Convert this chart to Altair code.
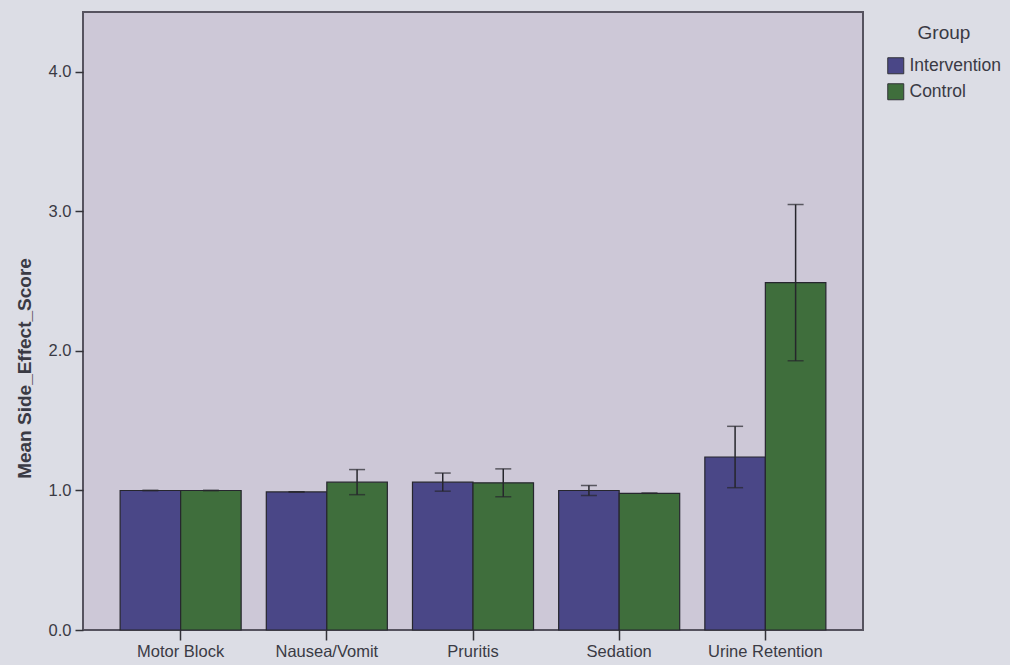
import altair as alt
import pandas as pd

# Mean side-effect scores with error-bar half-widths, per group
categories = ["Motor Block", "Nausea/Vomit", "Pruritis", "Sedation", "Urine Retention"]
groups = ["Intervention", "Control"]
intervention_mean = [1.00, 0.99, 1.06, 1.00, 1.24]
intervention_err = [0.0, 0.0, 0.065, 0.035, 0.22]
control_mean = [1.00, 1.06, 1.055, 0.98, 2.49]
control_err = [0.0, 0.09, 0.10, 0.0, 0.56]
group_colors = ["#4a4787", "#3f6e3c"]
y_ticks = [0, 1, 2, 3, 4]

rows = []
for means, errs, g in [(intervention_mean, intervention_err, "Intervention"),
                       (control_mean, control_err, "Control")]:
    for c, m, e in zip(categories, means, errs):
        rows.append({"category": c, "group": g, "mean": m, "lo": m - e, "hi": m + e})
df = pd.DataFrame(rows)

FONT = "Liberation Sans"
TEXT = "#3a3a44"

x_enc = alt.X(
    "category:N", sort=categories,
    scale=alt.Scale(paddingInner=0.172, paddingOuter=0.254),
    axis=alt.Axis(title=None, labelAngle=0, labelFontSize=16.5, labelColor=TEXT,
                  labelFont=FONT, tickSize=10, tickWidth=1.5, tickColor="#333338",
                  labelPadding=3, domain=False),
)
xoff_enc = alt.XOffset("group:N", sort=groups,
                       scale=alt.Scale(paddingInner=0, paddingOuter=0))
y_scale = alt.Scale(domain=[0, 4.43], nice=False)

bars = alt.Chart(df).mark_bar(stroke="#26262e", strokeWidth=1.2).encode(
    x=x_enc,
    xOffset=xoff_enc,
    y=alt.Y("mean:Q", scale=y_scale,
            axis=alt.Axis(title="Mean Side_Effect_Score", values=y_ticks, format=".1f",
                          grid=False, domain=False, tickSize=8, tickWidth=1.5,
                          tickColor="#333338", labelFontSize=16.5, labelColor=TEXT,
                          labelFont=FONT, labelPadding=4, titleFont=FONT,
                          titleFontSize=19, titleFontWeight="bold", titleColor=TEXT,
                          titlePadding=14, titleY=356)),
    color=alt.Color("group:N", sort=groups,
                    scale=alt.Scale(domain=groups, range=group_colors),
                    legend=alt.Legend(title="Group", orient="none", legendX=804,
                                      legendY=12, titleAnchor="middle",
                                      titleFontSize=19, titleFontWeight="normal",
                                      titleColor=TEXT, titleFont=FONT,
                                      titlePadding=14, symbolType="square",
                                      symbolSize=256, symbolStrokeColor="#333338",
                                      symbolStrokeWidth=1, labelFontSize=17.5,
                                      labelColor=TEXT, labelFont=FONT,
                                      labelOffset=5, rowPadding=5)),
)

whiskers = alt.Chart(df).mark_rule(color="#26262c", strokeWidth=1.5).encode(
    x=x_enc, xOffset=xoff_enc,
    y=alt.Y("lo:Q", scale=y_scale), y2="hi:Q",
)

caps_hi = alt.Chart(df).mark_tick(color="#26262c", size=16, thickness=1.5).encode(
    x=x_enc, xOffset=xoff_enc, y=alt.Y("hi:Q", scale=y_scale),
)
caps_lo = alt.Chart(df).mark_tick(color="#26262c", size=16, thickness=1.5).encode(
    x=x_enc, xOffset=xoff_enc, y=alt.Y("lo:Q", scale=y_scale),
)

chart = alt.layer(bars, whiskers, caps_hi, caps_lo).properties(
    width=780, height=618,
    autosize=alt.AutoSizeParams(type="none"),
    padding={"left": 83, "top": 12, "right": 147, "bottom": 35},
    background="#dcdde5",
).configure_view(
    fill="#cdc8d7", stroke="#56535f", strokeWidth=2,
)

chart.save("out.html", embed_options={"renderer": "svg", "actions": False})
